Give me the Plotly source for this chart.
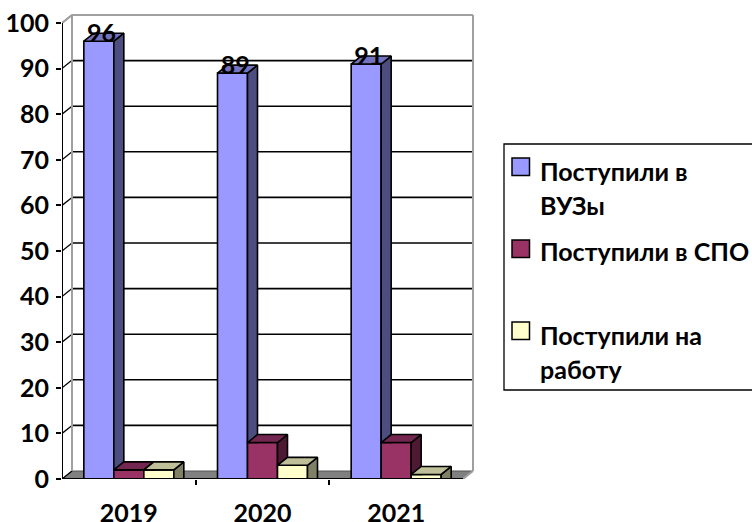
import plotly.graph_objects as go

years = ["2019", "2020", "2021"]
vuz = [96, 89, 91]
spo = [2, 8, 8]
work = [2, 3, 1]
series_names = ["Поступили в ВУЗы", "Поступили в СПО", "Поступили на работу"]
legend_lines = [["Поступили в", "ВУЗы"], ["Поступили в СПО"], ["Поступили на", "работу"]]
front = ["#9999FF", "#993366", "#FFFFCC"]
top = ["#7373BF", "#732650", "#BFBF99"]
side = ["#4D4D80", "#4D1933", "#808066"]
yticks = list(range(0, 101, 10))

W, H = 752, 522
FONT = "Lato, 'Noto Sans', sans-serif"
# pixel layout of the plot box (with a 2 px pad so the wall outline is not clipped)
PX0, PX1, PY0, PY1 = 62, 475, 479, 13
DX = 10 / 133.67   # depth in category units
DY = 8 / 4.565     # depth in value units
PADX = 2 / 133.67
PADY = 2 / 4.565
BAR = 30 / 133.67  # bar width in category units
values = [vuz, spo, work]
centers = [0.5, 1.5, 2.5]

fig = go.Figure()

# front faces
for s, (name, vals) in enumerate(zip(series_names, values)):
    fig.add_trace(go.Bar(
        x=centers, y=vals, name=name, width=BAR,
        offset=[-1.5 * BAR + s * BAR] * 3,
        marker=dict(color=front[s], line=dict(color="black", width=1.6)),
        showlegend=False, hoverinfo="x+y+name"))

# top and side faces, built from the values
for s, vals in enumerate(values):
    for c, v in enumerate(vals):
        x0 = centers[c] - 1.5 * BAR + s * BAR
        x1 = x0 + BAR
        nxt = values[s + 1][c] if s < 2 else 0
        fig.add_trace(go.Scatter(
            x=[x1, x1 + DX, x1 + DX, x1, x1], y=[v, v + DY, nxt, nxt, v],
            mode="lines", fill="toself", fillcolor=side[s],
            line=dict(color="black", width=1.6), showlegend=False, hoverinfo="skip"))
        fig.add_trace(go.Scatter(
            x=[x0, x0 + DX, x1 + DX, x1, x0], y=[v, v + DY, v + DY, v, v],
            mode="lines", fill="toself", fillcolor=top[s],
            line=dict(color="black", width=1.6), showlegend=False, hoverinfo="skip"))

# data labels of the first series
fig.add_trace(go.Scatter(
    x=[c - BAR + 0.02 for c in centers], y=[v + DY * 0.65 for v in vuz],
    mode="text", text=[f"<b>{v}</b>" for v in vuz], textposition="middle center",
    textfont=dict(family=FONT, size=25, color="black"),
    showlegend=False, hoverinfo="skip", cliponaxis=False))

shapes = []
annotations = []
# floor
shapes.append(dict(type="path", layer="below", xref="x", yref="y",
                   path=f"M0,0 L3,0 L{3+DX},{DY} L{DX},{DY} Z",
                   fillcolor="#808080", line=dict(color="#555555", width=1)))
# wall gridlines and their diagonals on the side wall
for t in yticks:
    if t > 0:
        shapes.append(dict(type="line", layer="below", xref="x", yref="y",
                           x0=DX, x1=3 + DX, y0=t + DY, y1=t + DY,
                           line=dict(color="black", width=1.6)))
    shapes.append(dict(type="line", layer="below", xref="x", yref="y",
                       x0=0, x1=DX, y0=t, y1=t + DY,
                       line=dict(color="black", width=1.3)))
# wall outline
for x0, y0, x1, y1 in [(DX, DY, DX, 100 + DY), (DX, 100 + DY, 3 + DX, 100 + DY),
                       (3 + DX, DY, 3 + DX, 100 + DY), (0, 100, DX, 100 + DY),
                       (3, 0, 3 + DX, DY)]:
    shapes.append(dict(type="line", layer="below", xref="x", yref="y",
                       x0=x0, x1=x1, y0=y0, y1=y1, line=dict(color="#A0A0A0", width=2)))
# front axis lines
shapes.append(dict(type="line", layer="above", xref="x", yref="y", x0=0, x1=0, y0=0, y1=100,
                   line=dict(color="black", width=2)))
shapes.append(dict(type="line", layer="above", xref="x", yref="y", x0=0, x1=3, y0=0, y1=0,
                   line=dict(color="black", width=2)))


def px(x):
    return x / W


def py(y):
    return 1 - y / H


# legend box
shapes.append(dict(type="rect", xref="paper", yref="paper", x0=px(504), x1=px(770),
                   y0=py(390), y1=py(144), line=dict(color="black", width=1.3),
                   fillcolor="white", layer="above"))
swatch_y = [158, 240, 322]
line_y = [[171, 205], [251], [335, 369]]
for s in range(3):
    shapes.append(dict(type="rect", xref="paper", yref="paper", x0=px(512), x1=px(529.5),
                       y0=py(swatch_y[s] + 17.5), y1=py(swatch_y[s]), fillcolor=front[s],
                       line=dict(color="black", width=1.5), layer="above"))
    for text, yy in zip(legend_lines[s], line_y[s]):
        annotations.append(dict(text=text, xref="paper", yref="paper", x=px(538), y=py(yy),
                                xanchor="left", yanchor="middle", showarrow=False,
                                font=dict(family=FONT, size=25, color="black", weight="bold")))

tickfont = dict(family=FONT, size=25, color="black", weight="bold")
fig.update_layout(
    width=W, height=H, margin=dict(l=0, r=0, t=0, b=0),
    paper_bgcolor="white", plot_bgcolor="white",
    barmode="overlay", showlegend=False,
    shapes=shapes, annotations=annotations,
    xaxis=dict(domain=[PX0 / W, PX1 / W], range=[0, 3 + DX + PADX], showgrid=False, zeroline=False,
               showline=False, tickmode="array", tickvals=centers, ticktext=years,
               ticks="", tickfont=tickfont, ticklabelstandoff=17, automargin=False,
               minor=dict(tickmode="array", tickvals=[1, 2], ticks="outside",
                          ticklen=5, tickwidth=2, tickcolor="black", showgrid=False)),
    yaxis=dict(domain=[1 - PY0 / H, 1 - PY1 / H], range=[0, 100 + DY + PADY], showgrid=False,
               zeroline=False, showline=False, tickmode="array", tickvals=yticks,
               ticks="outside", ticklen=5, tickwidth=2, tickcolor="black",
               tickfont=tickfont, ticklabelstandoff=2, automargin=False),
)

fig.write_html("out.html", config=dict(displayModeBar=False),
               post_script="document.body.style.margin='0';document.documentElement.style.overflow='hidden';")
